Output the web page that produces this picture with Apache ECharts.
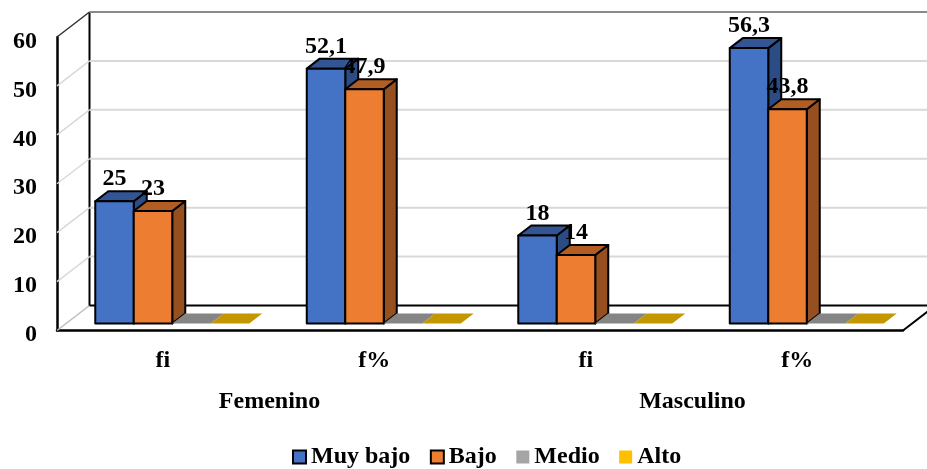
<!DOCTYPE html>
<html><head><meta charset="utf-8">
<style>html,body{margin:0;padding:0;background:#fff}#c{width:927px;height:469px}</style>
<script src="https://cdn.jsdelivr.net/npm/echarts@6/dist/echarts.min.js"></script>
</head><body><div id="c"></div>
<script>
const categories = ['fi','f%','fi','f%'];
const groups = ['Femenino','Masculino'];
const ticks = [0,10,20,30,40,50,60];
const muyBajo = [25,52.1,18,56.3];
const bajo = [23,47.9,14,43.8];
const medio = [0,0,0,0];
const alto = [0,0,0,0];
const names = ['Muy bajo','Bajo','Medio','Alto'];
const values = [muyBajo,bajo,medio,alto];
const palette = [
 {front:'#4472C4',top:'#335593',side:'#2C4C86',line:'#000'},
 {front:'#ED7D31',top:'#B25D24',side:'#96501F',line:'#000'},
 {front:'#A5A5A5',top:'#858585',side:'#6E6E6E',line:null},
 {front:'#FFC000',top:'#C49700',side:'#A88400',line:null}
];
const FONT='"Liberation Serif"';
const FS=24;
// 3D projection, in pixels
const WALL=[32.5,-25], INSET=[9.5,-7], DEPTH=[13,-10], BAR_SHARE=0.182;

function wallItem(params,api){
  const v=api.value(1), p=api.coord([0,v]), c=params.coordSys;
  const x0=c.x, y=p[1], x1=x0+WALL[0], y1=y+WALL[1], x2=c.x+c.width+WALL[0];
  const isTop=v===ticks[ticks.length-1], isZero=v===0;
  const col=isZero?'#000':isTop?'#8a8a8a':'#D9D9D9';
  const kids=[
    {type:'polyline',shape:{points:[[x0,y],[x1,y1]]},style:{stroke:isTop?'#333':isZero?'#BDBDBD':'#D9D9D9',lineWidth:1.5,fill:null}},
    {type:'polyline',shape:{points:[[x1,y1],[x2,y1]]},style:{stroke:col,lineWidth:2,fill:null}}
  ];
  if(isZero){
    kids.push({type:'polyline',shape:{points:[[c.x+c.width,y],[x2,y1]]},style:{stroke:'#000',lineWidth:2,fill:null}});
    kids.push({type:'line',shape:{x1:x1,y1:y1,x2:x1,y2:c.y+WALL[1]},style:{stroke:'#000',lineWidth:2}});
  }
  return {type:'group',children:kids};
}
function barItem(idx){
  return function(params,api){
    const cat=api.value(0), v=api.value(1);
    const w=api.size([1,0])[0]*BAR_SHARE;
    const base=api.coord([cat,0]), topP=api.coord([cat,v]);
    const xl=base[0]+INSET[0]+(idx-2)*w, xr=xl+w;
    const yb=base[1]+INSET[1], yt=topP[1]+INSET[1];
    const dx=DEPTH[0], dy=DEPTH[1], s=palette[idx];
    const st=(fill)=>({fill:fill,stroke:s.line||null,lineWidth:s.line?2:0,lineJoin:'round'});
    const kids=[];
    if(v>0){
      kids.push({type:'polygon',shape:{points:[[xr,yt],[xr+dx,yt+dy],[xr+dx,yb+dy],[xr,yb]]},style:st(s.side)});
      kids.push({type:'polygon',shape:{points:[[xl,yt],[xl+dx,yt+dy],[xr+dx,yt+dy],[xr,yt]]},style:st(s.top)});
      kids.push({type:'rect',shape:{x:xl,y:yt,width:w,height:yb-yt},style:st(s.front)});
      kids.push({type:'text',z2:50,style:{x:(xl+xr)/2,y:yt-22,text:String(v).replace('.',','),fill:'#000',
        font:'bold '+FS+'px '+FONT,align:'center',verticalAlign:'middle'}});
    } else {
      kids.push({type:'polygon',shape:{points:[[xl,yb],[xl+dx,yb+dy],[xr+dx,yb+dy],[xr,yb]]},style:{fill:s.top}});
    }
    return {type:'group',children:kids};
  };
}
const chart=echarts.init(document.getElementById('c'),null,{renderer:'canvas'});
const series=[{
  type:'custom',name:'wall',silent:true,z:1,xAxisIndex:0,yAxisIndex:0,
  data:ticks.map(t=>[0,t]),renderItem:wallItem,clip:false,animation:false
}];
names.forEach((n,i)=>series.push({
  type:'custom',name:n,z:3+i,xAxisIndex:0,yAxisIndex:0,clip:false,animation:false,
  itemStyle:{color:palette[i].front,borderColor:palette[i].line||palette[i].front,borderWidth:palette[i].line?2:0},
  data:values[i].map((v,k)=>[k,v]),renderItem:barItem(i)
}));
chart.setOption({
  animation:false,backgroundColor:'#fff',
  textStyle:{fontFamily:FONT},
  grid:{left:57,right:24,top:37,bottom:138.5,containLabel:false},
  xAxis:[
    {type:'category',data:categories,position:'bottom',axisTick:{show:false},
     axisLine:{show:true,lineStyle:{color:'#000',width:2.5}},
     axisLabel:{color:'#000',fontFamily:FONT,fontWeight:'bold',fontSize:FS,margin:18}},
    {type:'category',data:groups,position:'bottom',offset:41,axisTick:{show:false},
     axisLine:{show:false},
     axisLabel:{color:'#000',fontFamily:FONT,fontWeight:'bold',fontSize:FS,margin:18,padding:[0,0,0,2]}}
  ],
  yAxis:{type:'value',min:0,max:60,interval:10,splitLine:{show:false},axisTick:{show:false},
     axisLine:{show:true,lineStyle:{color:'#000',width:2.5}},
     axisLabel:{color:'#000',fontFamily:FONT,fontWeight:'bold',fontSize:FS,margin:20,verticalAlign:'top',lineHeight:9}},
  legend:{data:names,left:287,top:440,itemWidth:13,itemHeight:13,itemGap:19.5,icon:'rect',
     textStyle:{color:'#000',fontFamily:FONT,fontWeight:'bold',fontSize:FS}},
  series:series
});
</script></body></html>
